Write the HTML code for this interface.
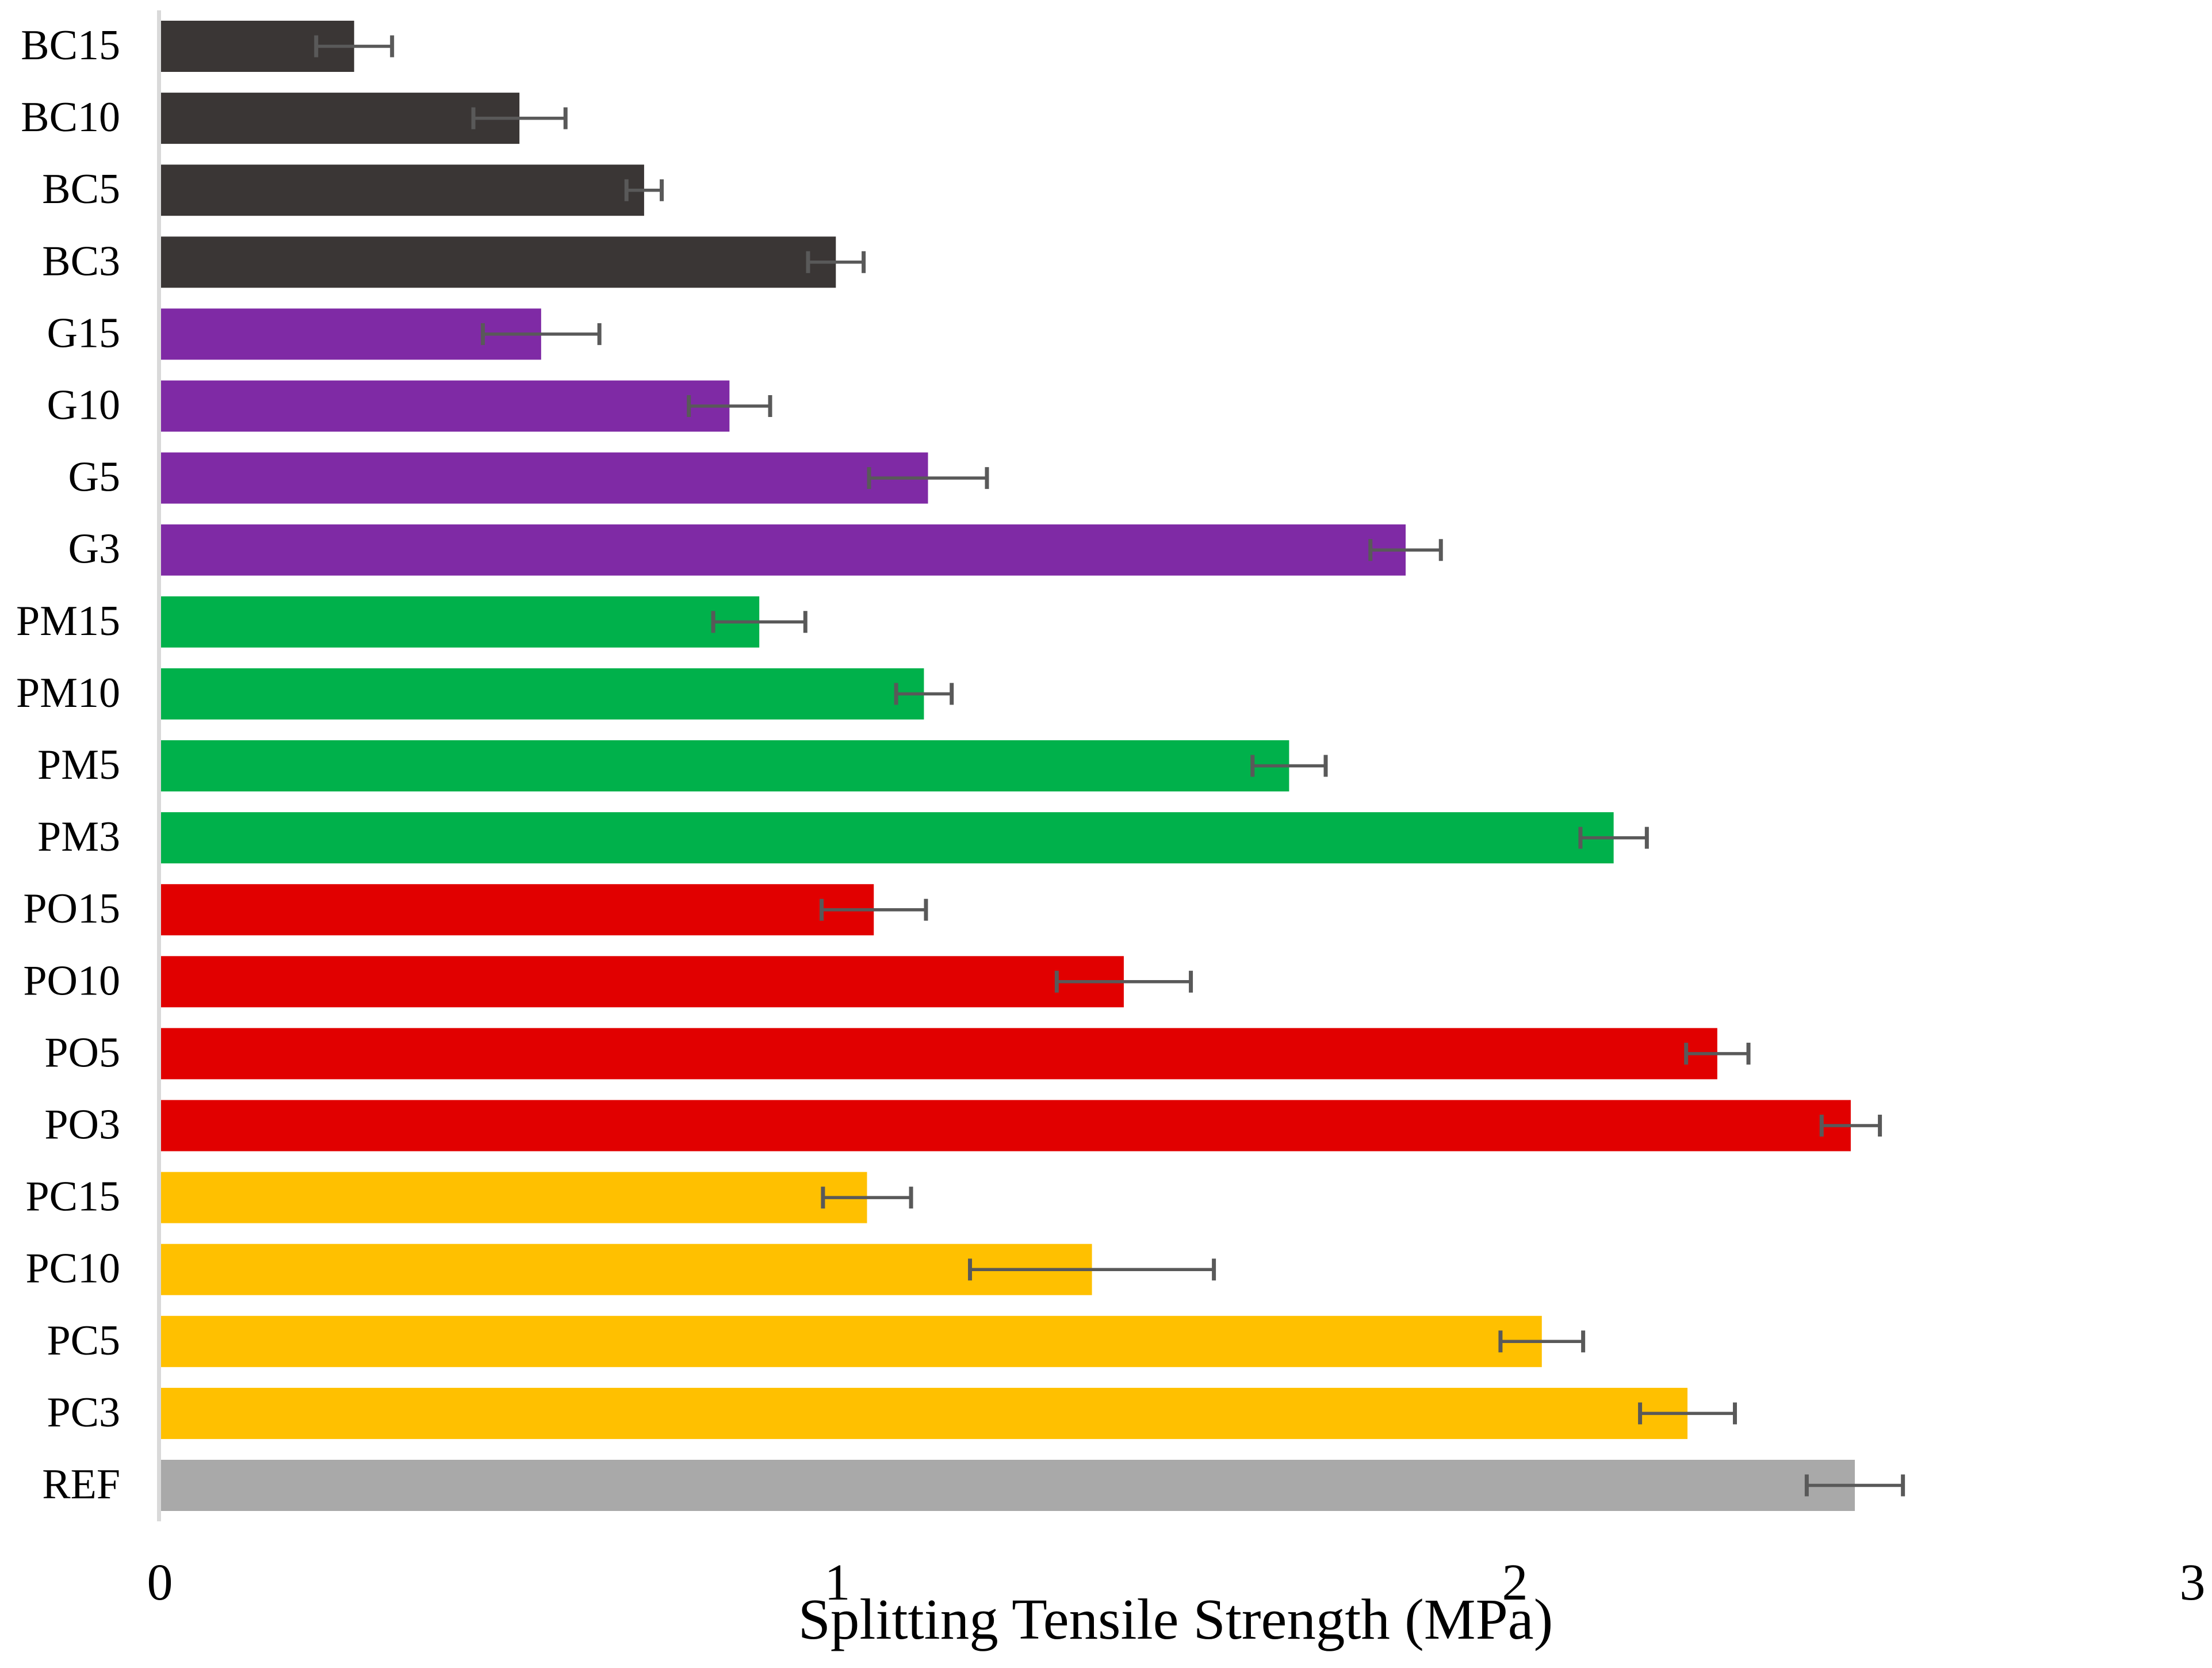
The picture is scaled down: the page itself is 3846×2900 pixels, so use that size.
<!DOCTYPE html>
<html><head><meta charset="utf-8"><style>
html,body{margin:0;padding:0;background:#fff;}
svg{display:block;}
text{font-family:"Liberation Serif","Times New Roman",serif;fill:#000;}
</style></head><body>
<svg id="chart" width="3846" height="2900" viewBox="0 0 3846 2900" xmlns="http://www.w3.org/2000/svg">
<rect x="0" y="0" width="3846" height="2900" fill="#fff"/>
<g id="bars"></g>
<g id="errs"></g>
<line x1="276.5" y1="18" x2="276.5" y2="2645" stroke="#d9d9d9" stroke-width="7"/>
<g id="ylabels"></g>
<g id="xticks"></g>
<text x="2044" y="2849" font-size="101" text-anchor="middle">Splitting Tensile Strength (MPa)</text>
</svg>
<script>
const categories = ["BC15","BC10","BC5","BC3","G15","G10","G5","G3","PM15","PM10","PM5","PM3","PO15","PO10","PO5","PO3","PC15","PC10","PC5","PC3","REF"];
const values = [0.285,0.529,0.713,0.996,0.561,0.839,1.132,1.837,0.883,1.126,1.665,2.144,1.052,1.421,2.297,2.494,1.042,1.374,2.038,2.253,2.5];
const errors = [0.056,0.068,0.026,0.041,0.086,0.060,0.087,0.052,0.068,0.041,0.054,0.049,0.077,0.099,0.046,0.043,0.065,0.180,0.061,0.070,0.071];
const groups = ["BC","BC","BC","BC","G","G","G","G","PM","PM","PM","PM","PO","PO","PO","PO","PC","PC","PC","PC","REF"];
const xTicks = [0,1,2,3];
const colors = {BC:"#3a3635",G:"#7f2aa5",PM:"#00b14b",PO:"#e10000",PC:"#ffc000",REF:"#a9a9a9"};

const NS="http://www.w3.org/2000/svg";
const X0=280, UNIT=1178, TOP0=36, PITCH=125.1, BH=89;
function xScale(v){return X0+v*UNIT;}
function yBand(i){return TOP0+i*PITCH;}
const gb=document.getElementById('bars'), ge=document.getElementById('errs'), gl=document.getElementById('ylabels'), gx=document.getElementById('xticks');
function mk(tag,attrs){const e=document.createElementNS(NS,tag);for(const k in attrs)e.setAttribute(k,attrs[k]);return e;}
categories.forEach((c,i)=>{
  const y=yBand(i), cy=y+BH/2;
  const r=mk('rect',{x:X0,y:y,width:xScale(values[i])-X0,height:BH,fill:colors[groups[i]]});
  
  
  gb.appendChild(r);
  const lo=xScale(values[i]-errors[i]), hi=xScale(values[i]+errors[i]);
  const g=mk('g',{stroke:'#595959',fill:'none'});
  
  
  g.appendChild(mk('line',{x1:lo,y1:cy,x2:hi,y2:cy,'stroke-width':5.5}));
  g.appendChild(mk('line',{x1:lo,y1:cy-19,x2:lo,y2:cy+19,'stroke-width':7}));
  g.appendChild(mk('line',{x1:hi,y1:cy-19,x2:hi,y2:cy+19,'stroke-width':7}));
  ge.appendChild(g);
  const t=mk('text',{x:209,y:y+67,'font-size':74,'text-anchor':'end'});
  t.textContent=c;
  
  
  gl.appendChild(t);
});
xTicks.forEach(v=>{
  const t=mk('text',{x:xScale(v)-2,y:2781,'font-size':90,'text-anchor':'middle'});
  t.textContent=String(v);
  
  
  gx.appendChild(t);
});
</script>
</body></html>
